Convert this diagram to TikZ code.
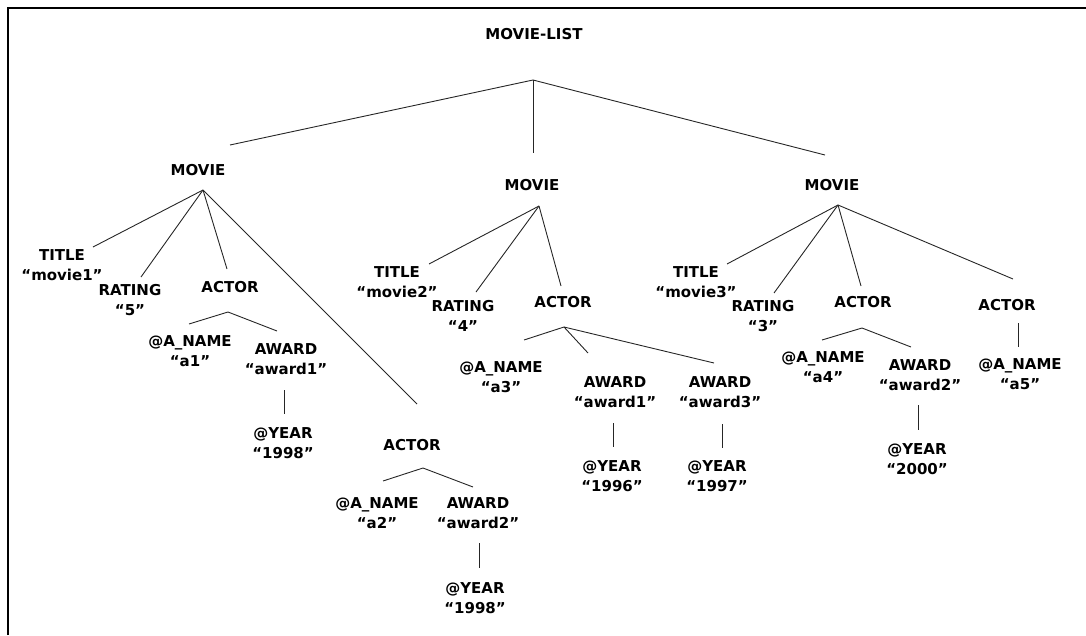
\documentclass[tikz,border=0pt]{standalone}
\usepackage{fontspec}
\setmainfont{DejaVu Sans}
\begin{document}
\begin{tikzpicture}[x=1pt,y=-1pt,
  lbl/.style={font=\bfseries\fontsize{15}{19.5}\selectfont, align=center, inner sep=0pt},
  edge/.style={line width=0.9pt, draw=black!85},
  frame/.style={line width=1.4pt, draw=black}]
\useasboundingbox (0,0) rectangle (1086,635);
% open frame: top and left sides
\draw[frame] (8,635) -- (8,8) -- (1086,8);

% ---- labels ----
\node[lbl] (list) at (534,34) {MOVIE-LIST};
\node[lbl] (m1) at (198,170) {MOVIE};
\node[lbl] (m2) at (532,185) {MOVIE};
\node[lbl] (m3) at (832,185) {MOVIE};

\node[lbl] (t1) at (62,265) {TITLE\\“movie1”};
\node[lbl] (r1) at (130,300) {RATING\\“5”};
\node[lbl] (a1) at (230,287) {ACTOR};
\node[lbl] (n1) at (190,351) {@A\_NAME\\“a1”};
\node[lbl] (w1) at (286,359) {AWARD\\“award1”};
\node[lbl] (y1) at (283,443) {@YEAR\\“1998”};
\node[lbl] (a2) at (412,445) {ACTOR};
\node[lbl] (n2) at (377,513) {@A\_NAME\\“a2”};
\node[lbl] (w2) at (478,513) {AWARD\\“award2”};
\node[lbl] (y2) at (475,598) {@YEAR\\“1998”};

\node[lbl] (t2) at (397,282) {TITLE\\“movie2”};
\node[lbl] (r2) at (463,316) {RATING\\“4”};
\node[lbl] (a3) at (563,302) {ACTOR};
\node[lbl] (n3) at (501,377) {@A\_NAME\\“a3”};
\node[lbl] (w3) at (615,392) {AWARD\\“award1”};
\node[lbl] (y3) at (612,476) {@YEAR\\“1996”};
\node[lbl] (w4) at (720,392) {AWARD\\“award3”};
\node[lbl] (y4) at (717,476) {@YEAR\\“1997”};

\node[lbl] (t3) at (696,282) {TITLE\\“movie3”};
\node[lbl] (r3) at (763,316) {RATING\\“3”};
\node[lbl] (a4) at (863,302) {ACTOR};
\node[lbl] (n4) at (823,367) {@A\_NAME\\“a4”};
\node[lbl] (w5) at (920,375) {AWARD\\“award2”};
\node[lbl] (y5) at (917,459) {@YEAR\\“2000”};
\node[lbl] (a5) at (1007,305) {ACTOR};
\node[lbl] (n5) at (1020,374) {@A\_NAME\\“a5”};

% ---- branch points and line ends ----
\coordinate (R)   at (533,80);
\coordinate (Rm1) at (230,145);
\coordinate (Rm2) at (533,153);
\coordinate (Rm3) at (825,155);

\coordinate (P1)  at (203,190);
\coordinate (P1t) at (93,247);
\coordinate (P1r) at (141,277);
\coordinate (P1a) at (227,269);
\coordinate (P1b) at (417,404);
\coordinate (Q1)  at (228,312);
\coordinate (Q1n) at (189,324);
\coordinate (Q1w) at (277,331);
\coordinate (V1a) at (284,390);
\coordinate (V1b) at (284,414);
\coordinate (Q2)  at (423,468);
\coordinate (Q2n) at (383,481);
\coordinate (Q2w) at (473,487);
\coordinate (V2a) at (479,543);
\coordinate (V2b) at (479,568);

\coordinate (P2)  at (539,206);
\coordinate (P2t) at (429,264);
\coordinate (P2r) at (476,292);
\coordinate (P2a) at (561,286);
\coordinate (Q3)  at (564,327);
\coordinate (Q3n) at (524,340);
\coordinate (Q3w) at (588,353);
\coordinate (Q3v) at (714,363);
\coordinate (V3a) at (613,423);
\coordinate (V3b) at (613,447);
\coordinate (V4a) at (722,424);
\coordinate (V4b) at (722,448);

\coordinate (P3)  at (838,205);
\coordinate (P3t) at (727,264);
\coordinate (P3r) at (774,293);
\coordinate (P3a) at (861,286);
\coordinate (P3b) at (1013,279);
\coordinate (Q4)  at (862,328);
\coordinate (Q4n) at (822,340);
\coordinate (Q4w) at (911,347);
\coordinate (V5a) at (918,405);
\coordinate (V5b) at (918,430);
\coordinate (V6a) at (1018,323);
\coordinate (V6b) at (1018,347);

% ---- connectors ----
\draw[edge] (Rm1) -- (R) -- (Rm3);
\draw[edge] (R) -- (Rm2);

\draw[edge] (P1) -- (P1t);
\draw[edge] (P1) -- (P1r);
\draw[edge] (P1) -- (P1a);
\draw[edge] (P1) -- (P1b);
\draw[edge] (Q1n) -- (Q1) -- (Q1w);
\draw[edge] (V1a) -- (V1b);
\draw[edge] (Q2n) -- (Q2) -- (Q2w);
\draw[edge] (V2a) -- (V2b);

\draw[edge] (P2) -- (P2t);
\draw[edge] (P2) -- (P2r);
\draw[edge] (P2) -- (P2a);
\draw[edge] (Q3n) -- (Q3) -- (Q3v);
\draw[edge] (Q3) -- (Q3w);
\draw[edge] (V3a) -- (V3b);
\draw[edge] (V4a) -- (V4b);

\draw[edge] (P3) -- (P3t);
\draw[edge] (P3) -- (P3r);
\draw[edge] (P3) -- (P3a);
\draw[edge] (P3) -- (P3b);
\draw[edge] (Q4n) -- (Q4) -- (Q4w);
\draw[edge] (V5a) -- (V5b);
\draw[edge] (V6a) -- (V6b);
\end{tikzpicture}
\end{document}
